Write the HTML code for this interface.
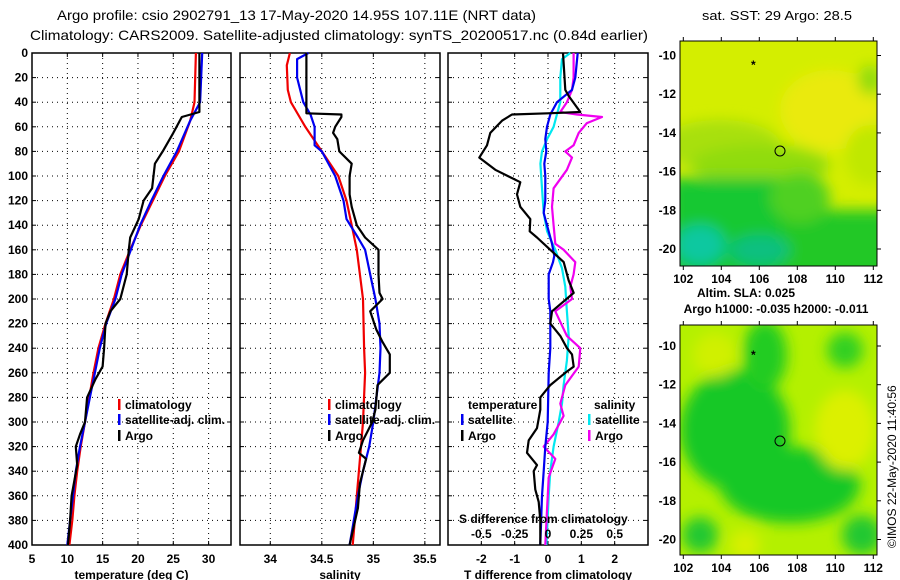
<!DOCTYPE html>
<html><head><meta charset="utf-8"><style>
body{margin:0;background:#fff;}
svg{display:block;font-family:"Liberation Sans",sans-serif;}
.t{font-size:12px;font-weight:bold;fill:#000;}
.grid{stroke:#000;stroke-width:1;stroke-dasharray:1,4;}
</style></head><body>
<svg id="c" width="900" height="580" viewBox="0 0 900 580">
<defs><filter id="bl" x="-50%" y="-50%" width="200%" height="200%"><feGaussianBlur stdDeviation="7"/></filter>
<clipPath id="cm1"><rect x="680" y="41" width="197" height="225"/></clipPath>
<clipPath id="cm2"><rect x="680" y="325" width="197" height="230"/></clipPath></defs>
<text x="57" y="20" font-size="14" textLength="479" lengthAdjust="spacingAndGlyphs">Argo profile: csio 2902791_13 17-May-2020 14.95S 107.11E (NRT data)</text>
<text x="30" y="40" font-size="14" textLength="618" lengthAdjust="spacingAndGlyphs">Climatology: CARS2009. Satellite-adjusted climatology: synTS_20200517.nc (0.84d earlier)</text>
<g id="plots"></g>
<g id="maps">
<text x="777" y="20" text-anchor="middle" font-size="13" textLength="150" lengthAdjust="spacingAndGlyphs">sat. SST: 29 Argo: 28.5</text>
<g clip-path="url(#cm1)">
<rect x="680" y="41" width="197" height="225" fill="#d4ee00"/>
<g filter="url(#bl)">
<ellipse cx="830" cy="110" rx="50" ry="40" fill="#eaea10"/>
<ellipse cx="720" cy="145" rx="60" ry="25" fill="#a8e010"/>
<ellipse cx="760" cy="165" rx="70" ry="20" fill="#90dc10"/>
<rect x="670" y="178" width="130" height="100" fill="#18c830"/>
<rect x="780" y="210" width="110" height="70" fill="#20c828"/>
<ellipse cx="800" cy="198" rx="30" ry="25" fill="#50d020"/>
<ellipse cx="700" cy="245" rx="25" ry="20" fill="#10c8a0"/>
<ellipse cx="760" cy="250" rx="30" ry="15" fill="#10c080"/>
<ellipse cx="870" cy="155" rx="25" ry="30" fill="#c0e800"/>
<ellipse cx="870" cy="80" rx="12" ry="15" fill="#90dc10"/>
</g></g>
<rect x="680" y="41" width="197" height="225" fill="none" stroke="#000"/>
<circle cx="780" cy="151" r="5" fill="none" stroke="#000"/>
<text class="t" x="751" y="69" font-size="8">*</text>
<text class="t" x="746" y="297" text-anchor="middle">Altim. SLA: 0.025</text>
<text class="t" x="776" y="313" text-anchor="middle">Argo h1000: -0.035 h2000: -0.011</text>
<g clip-path="url(#cm2)">
<rect x="680" y="325" width="197" height="230" fill="#b4f000"/>
<g filter="url(#bl)">
<ellipse cx="735" cy="430" rx="55" ry="60" fill="#14c828"/>
<ellipse cx="790" cy="485" rx="70" ry="38" fill="#14c828"/>
<ellipse cx="765" cy="355" rx="22" ry="35" fill="#20cc20"/>
<ellipse cx="845" cy="350" rx="18" ry="18" fill="#30d020"/>
<ellipse cx="845" cy="430" rx="30" ry="40" fill="#dcf000"/>
<ellipse cx="700" cy="535" rx="18" ry="18" fill="#20c830"/>
<ellipse cx="862" cy="535" rx="20" ry="20" fill="#20c830"/>
<ellipse cx="715" cy="355" rx="22" ry="22" fill="#d0f000"/>
<ellipse cx="745" cy="545" rx="15" ry="15" fill="#d8f000"/>
</g></g>
<rect x="680" y="325" width="197" height="230" fill="none" stroke="#000"/>
<circle cx="780" cy="441" r="5" fill="none" stroke="#000"/>
<text class="t" x="751" y="359" font-size="8">*</text>
<g id="mapaxes"></g>
<text transform="translate(896,548) rotate(-90)" font-size="12">©IMOS 22-May-2020 11:40:56</text>
</g>
</svg>
<script>
// ---- data ----
const tDepth=[0,40,55,80,100,120,140,160,180,200,220,240,260,280,300,320,340,360,380,400];
const tClim=[28.2,28.0,27.4,25.8,23.8,22.1,20.4,18.9,17.5,16.6,15.4,14.4,13.7,13.1,12.5,11.9,11.4,11.0,10.7,10.3];
const tSat=[29.1,28.8,27.4,25.5,23.6,21.9,20.3,19.0,17.7,16.8,15.5,14.6,13.9,13.2,12.5,11.8,11.2,10.8,10.4,10.0];
const aDepthT=[0,48,52,65,80,90,100,110,120,135,150,160,180,200,210,220,240,255,265,280,300,310,320,335,360,380,400];
const tArgo=[28.7,28.7,26.2,25.0,23.5,22.4,22.2,22.0,20.8,20.1,18.9,18.7,18.4,17.5,16.1,15.4,15.2,15.0,14.0,12.8,12.5,11.8,11.2,11.4,10.6,10.4,10.1];
const sDepth=[0,10,30,40,50,60,70,80,90,100,120,140,160,180,200,240,260,300,320,340,360,380,400];
const sClim=[34.19,34.16,34.17,34.2,34.27,34.34,34.42,34.5,34.58,34.66,34.74,34.79,34.84,34.87,34.9,34.91,34.92,34.9,34.88,34.86,34.84,34.82,34.8];
const sDepthSat=[0,5,20,40,50,60,75,80,100,120,135,150,160,180,200,220,240,260,280,300,320,340,360,380,400];
const sSat=[34.37,34.26,34.26,34.32,34.39,34.43,34.43,34.5,34.63,34.71,34.74,34.85,34.92,34.97,35.02,35.06,35.07,35.06,35.03,35.0,34.96,34.9,34.85,34.81,34.77];
const aDepthS=[0,49,50,52,60,65,70,80,90,100,115,125,140,150,160,180,195,200,210,225,235,245,260,270,290,300,315,325,330,350,370,400];
const sArgo=[34.35,34.35,34.69,34.69,34.63,34.61,34.65,34.67,34.79,34.77,34.77,34.79,34.84,34.92,35.05,35.05,35.06,35.09,34.97,35.03,35.09,35.16,35.16,35.04,35.02,34.99,34.9,34.86,34.93,34.87,34.85,34.77];
const dDepthTS=[0,20,30,40,50,60,70,80,90,100,120,130,140,155,165,170,180,200,210,220,240,260,300,320,340,360,400];
const dTSat=[0.89,0.82,0.72,0.27,0.07,-0.03,-0.08,-0.05,-0.11,-0.08,-0.08,-0.13,-0.03,0.12,0.19,0.15,0.02,0.02,0.07,0.07,0.07,0.02,-0.01,-0.08,-0.13,-0.18,-0.23];
const dDepthTA=[0,30,35,48,49,50,55,65,75,85,95,105,115,125,135,145,150,160,170,185,195,210,220,230,240,245,255,260,270,280,290,305,315,325,335,340,355,365,380,400];
const dTArgo=[0.45,0.52,0.62,0.97,0,-1.08,-1.38,-1.73,-1.83,-2.06,-1.58,-0.83,-0.93,-0.83,-0.53,-0.55,-0.33,0.07,0.47,0.62,0.77,0.12,0.07,0.37,0.57,0.72,0.77,0.52,0.07,-0.23,-0.23,-0.33,-0.58,-0.63,-0.33,-0.43,-0.38,-0.28,-0.23,-0.23];
const dDepthSS=[0,5,20,40,50,60,70,80,90,110,130,145,160,175,190,210,230,250,270,285,300,320,340,360,400];
const dSSat=[0.167,0.105,0.092,0.092,0.067,0.042,-0.007,-0.045,-0.057,-0.045,-0.032,-0.007,0.055,0.105,0.13,0.142,0.155,0.142,0.117,0.105,0.08,0.042,0.017,0.005,-0.012];
const dDepthSA=[0,20,30,40,48,50,52,57,65,75,80,85,95,110,125,140,155,160,170,180,190,200,210,230,240,255,270,285,295,310,320,330,345,370,400];
const dSArgo=[0.192,0.192,0.18,0.142,0.092,0.217,0.405,0.292,0.23,0.192,0.13,0.18,0.142,0.042,0.03,0.042,0.055,0.117,0.205,0.192,0.167,0.18,0.055,0.142,0.242,0.23,0.13,0.092,0.117,0.042,-0.032,0.055,0.005,-0.007,-0.02];
const depthTicks=[0,20,40,60,80,100,120,140,160,180,200,220,240,260,280,300,320,340,360,380,400];
const tTicks=[5,10,15,20,25,30];
const sTicks=[34,34.5,35,35.5];
const dTicks=[-2,-1,0,1,2];
const dsTicks=[-0.5,-0.25,0,0.25,0.5];
const latTicks=[-10,-12,-14,-16,-18,-20];
const lonTicks=[102,104,106,108,110,112];
// ---- drawing ----
const NS='http://www.w3.org/2000/svg';
const g=document.getElementById('plots');
const Y0=53,Y1=545;
const yD=d=>Y0+(Y1-Y0)*d/400;
function mk(tag,at,par){const e=document.createElementNS(NS,tag);for(const k in at)e.setAttribute(k,at[k]);(par||g).appendChild(e);return e;}
function txt(x,y,s,anchor,par){const e=mk('text',{x:x,y:y,'class':'t','text-anchor':anchor||'middle'},par);e.textContent=s;return e;}
const panels=[
 {x0:32,x1:231,v0:5,v1:33.17,ticks:tTicks,label:'temperature (deg C)',name:'temperature-panel'},
 {x0:240,x1:440,v0:33.706,v1:35.647,ticks:sTicks,label:'salinity',name:'salinity-panel'},
 {x0:448,x1:648,v0:-3,v1:3,ticks:dTicks,label:'T difference from climatology',name:'difference-panel'}];
panels.forEach((p,i)=>{
 p.x=v=>p.x0+(p.x1-p.x0)*(v-p.v0)/(p.v1-p.v0);
 const pg=mk('g',{});
 
 
 depthTicks.forEach(d=>{
  if(d>0&&d<400)mk('line',{x1:p.x0,x2:p.x1,y1:yD(d),y2:yD(d),'class':'grid'},pg);
  mk('line',{x1:p.x0,x2:p.x0+4,y1:yD(d),y2:yD(d),stroke:'#000'},pg);
  mk('line',{x1:p.x1,x2:p.x1-4,y1:yD(d),y2:yD(d),stroke:'#000'},pg);
  if(i==0){const t=txt(28,yD(d)+4,String(d),'end',pg);}
 });
 p.ticks.forEach(v=>{
  const x=p.x(v);
  if(x>p.x0+1&&x<p.x1-1)mk('line',{x1:x,x2:x,y1:Y0,y2:Y1,'class':'grid'},pg);
  mk('line',{x1:x,x2:x,y1:Y1,y2:Y1-4,stroke:'#000'},pg);
  mk('line',{x1:x,x2:x,y1:Y0,y2:Y0+4,stroke:'#000'},pg);
  const t=txt(x,563,String(v),'middle',pg);
  
  
 });
 mk('rect',{x:p.x0,y:Y0,width:p.x1-p.x0,height:Y1-Y0,fill:'none',stroke:'#000','stroke-width':1.5},pg);
 const l=txt((p.x0+p.x1)/2,579,p.label,'middle',pg);
 
 
});
function line(p,vals,depths,col,name,scale){
 const pts=vals.map((v,k)=>p.x(v*(scale||1)).toFixed(1)+','+yD(depths[k]).toFixed(1)).join(' ');
 const e=mk('polyline',{points:pts,fill:'none',stroke:col,'stroke-width':2.2,'stroke-linejoin':'round'});
 
 
}
const [P1,P2,P3]=panels;
line(P1,tClim,tDepth,'#f00000','temperature-climatology-line');
line(P1,tSat,tDepth,'#0000f0','temperature-satellite-line');
line(P1,tArgo,aDepthT,'#000','temperature-argo-line');
line(P2,sClim,sDepth,'#f00000','salinity-climatology-line');
line(P2,sSat,sDepthSat,'#0000f0','salinity-satellite-line');
line(P2,sArgo,aDepthS,'#000','salinity-argo-line');
line(P3,dSSat,dDepthSS,'#00e8f0','s-diff-satellite-line',4);
line(P3,dSArgo,dDepthSA,'#f000f0','s-diff-argo-line',4);
line(P3,dTSat,dDepthTS,'#0000f0','t-diff-satellite-line');
line(P3,dTArgo,dDepthTA,'#000','t-diff-argo-line');
// legends
function leg(x,y,col,s,name){
 const lg=mk('g',{});
 
 
 mk('rect',{x:x,y:y-10,width:2.5,height:11,fill:col},lg);
 txt(x+7,y,s,'start',lg);
}
[118,328].forEach(x=>{
 leg(x,409,'#f00000','climatology','legend-climatology');
 leg(x,424,'#0000f0','satellite-adj. clim.','legend-satellite-adj');
 leg(x,440,'#000','Argo','legend-argo');
});
txt(468,409,'temperature','start');
leg(461,424,'#0000f0','satellite','legend-t-satellite');
leg(461,440,'#000','Argo','legend-t-argo');
txt(594,409,'salinity','start');
leg(588,424,'#00e8f0','satellite','legend-s-satellite');
leg(588,440,'#f000f0','Argo','legend-s-argo');
const st=txt(459,523,'S difference from climatology','start');


dsTicks.forEach(v=>{
 const t=txt(P3.x(v*4),538,String(v),'middle');
 
 
});
// map axes
const ma=document.getElementById('mapaxes');
const lonX=l=>683.3+(l-102)*19;
[{top:41,bot:266,lat10:55.5},{top:325,bot:555,lat10:346}].forEach(m=>{
 latTicks.forEach(l=>{
  const y=m.lat10+(-10-l)*19.35;
  const t=txt(676,y+4,String(l),'end',ma);
  
  
  mk('line',{x1:877,x2:881,y1:y,y2:y,stroke:'#000'},ma);
 });
 lonTicks.forEach(l=>{
  const x=lonX(l);
  const t=txt(x,m.bot+17,String(l),'middle',ma);
  
  
  mk('line',{x1:x,x2:x,y1:m.top,y2:m.top-4,stroke:'#000'},ma);
  mk('line',{x1:x,x2:x,y1:m.bot,y2:m.bot+4,stroke:'#000'},ma);
 });
});
</script>
</body></html>
